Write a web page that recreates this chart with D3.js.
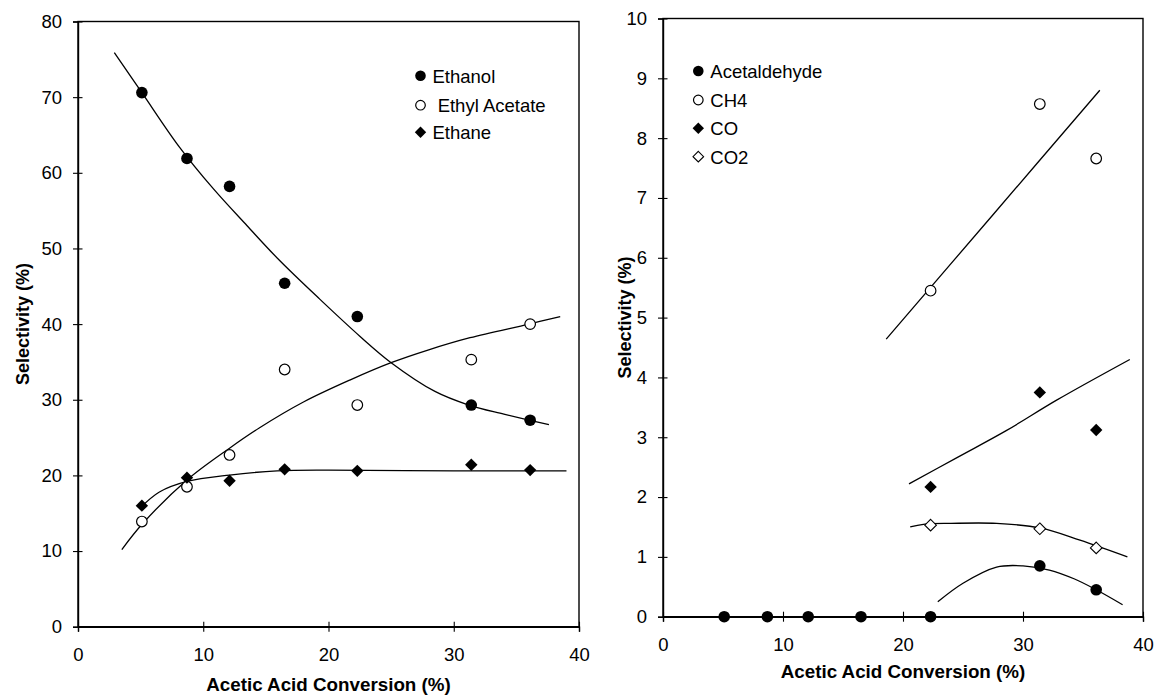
<!DOCTYPE html>
<html>
<head>
<meta charset="utf-8">
<script src="https://cdn.jsdelivr.net/npm/d3@7"></script>
<style>
  body { margin: 0; background: #fff; }
  svg text { font-family: "Liberation Sans", Arial, sans-serif; fill: #000; white-space: pre; }
</style>
</head>
<body>
<svg id="chart" width="1156" height="695"></svg>
<script>
// ---- data ----
const conversion = [5.1, 8.7, 12.1, 16.5, 22.3, 31.4, 36.1];

// left panel
const ethanol      = [70.6, 61.9, 58.2, 45.4, 41.0, 29.3, 27.3];
const ethylAcetate = [13.9, 18.5, 22.7, 34.0, 29.3, 35.3, 40.0];
const ethane       = [16.0, 19.7, 19.3, 20.8, 20.6, 21.4, 20.7];

// right panel
const acetaldehyde = [0, 0, 0, 0, 0, 0.85, 0.45];
const ch4          = [null, null, null, null, 5.45, 8.57, 7.66];
const co           = [null, null, null, null, 2.17, 3.75, 3.12];
const co2          = [null, null, null, null, 1.53, 1.47, 1.15];

// trend lines
const ethanolTrend = [[2.9, 75.9], [5.1, 70.6], [8.1, 63.4], [10.8, 57.9], [13.5, 53.0], [16.1, 48.4],
  [19.3, 43.3], [22.5, 38.4], [25.0, 34.9], [28.5, 31.1], [31.2, 29.3], [34.0, 28.1], [36.0, 27.3], [37.6, 26.7]];
const ethylAcetateTrend = [[3.5, 10.2], [5.2, 13.7], [8.7, 19.4], [12.1, 23.6], [14.5, 26.3], [18.0, 29.7],
  [21.7, 32.6], [25.0, 34.9], [28.0, 36.6], [31.3, 38.2], [36.0, 40.0], [38.5, 41.0]];
const ethaneTrend = [[4.9, 15.6], [6.5, 17.8], [8.7, 19.2], [12.1, 20.05], [15.9, 20.6], [20, 20.7], [30, 20.6], [39, 20.6]];

const ch4Trend = [[18.6, 4.64], [27.5, 6.72], [36.4, 8.8]];
const coTrend = [[20.5, 2.22], [24.5, 2.66], [28.6, 3.11], [32.8, 3.62], [38.9, 4.30]];
const co2Trend = [[20.6, 1.50], [21.7, 1.545], [24.0, 1.56], [27.8, 1.56], [31.5, 1.48], [34.75, 1.28], [38.7, 1.0]];
const acetaldehydeTrend = [[22.9, 0.25], [25.0, 0.56], [27.8, 0.83], [30.0, 0.85], [32.2, 0.78], [34.3, 0.63], [36.1, 0.45], [38.3, 0.2]];

// axis ticks
const xTicks = [0, 10, 20, 30, 40];
const leftYTicks = [0, 10, 20, 30, 40, 50, 60, 70, 80];
const rightYTicks = [0, 1, 2, 3, 4, 5, 6, 7, 8, 9, 10];

// ---- drawing ----
const svg = d3.select("#chart");

function diamondPath(s) {
  return `M0,${-s}L${s},0L0,${s}L${-s},0Z`;
}

function drawMarker(g, type, x, y, big) {
  const r = big ? 5.8 : 5.3;
  if (type === "fillCircle") {
    g.append("circle").attr("cx", x).attr("cy", y).attr("r", r).attr("fill", "#000");
  } else if (type === "openCircle") {
    g.append("circle").attr("cx", x).attr("cy", y).attr("r", r - 0.5)
      .attr("fill", "#fff").attr("stroke", "#000").attr("stroke-width", 1.2);
  } else if (type === "fillDiamond") {
    g.append("path").attr("transform", `translate(${x},${y})`).attr("d", diamondPath(r + 0.4)).attr("fill", "#000");
  } else {
    g.append("path").attr("transform", `translate(${x},${y})`).attr("d", diamondPath(r))
      .attr("fill", "#fff").attr("stroke", "#000").attr("stroke-width", 1.1);
  }
}

function drawPanel(p) {
  const x = d3.scaleLinear().domain([0, 40]).range([p.left, p.right]);
  const y = d3.scaleLinear().domain([0, p.yMax]).range([p.bottom, p.top]);
  const g = svg.append("g");

  // frame
  g.append("rect")
    .attr("x", p.left).attr("y", p.top)
    .attr("width", p.right - p.left).attr("height", p.bottom - p.top)
    .attr("fill", "none").attr("stroke", "#000").attr("stroke-width", 1.4);

  // axes
  const yAxis = g.append("g")
    .attr("transform", `translate(${p.left},0)`)
    .call(d3.axisLeft(y).tickValues(p.yTicks).tickSize(5).tickPadding(11).tickFormat(d3.format("d")));
  const xAxis = g.append("g")
    .attr("transform", `translate(0,${p.bottom})`)
    .call(d3.axisBottom(x).tickValues(xTicks).tickSize(5).tickPadding(p.xPad).tickFormat(d3.format("d")));
  [yAxis, xAxis].forEach(a => {
    a.select(".domain").attr("stroke-width", 1.4);
    a.selectAll("text").attr("font-size", "18.5px").attr("font-family", null);
  });
  yAxis.selectAll(".tick line").attr("x1", 4.5).attr("x2", -5).attr("stroke-width", 1.1);
  xAxis.selectAll(".tick line").attr("y1", -5).attr("y2", 5).attr("stroke-width", 1.1);

  // axis titles
  g.append("text")
    .attr("x", (p.left + p.right) / 2).attr("y", p.xTitleY)
    .attr("text-anchor", "middle").attr("font-weight", "bold").attr("font-size", "18.8px")
    .text("Acetic Acid Conversion (%)");
  g.append("text")
    .attr("transform", `translate(${p.yTitleX},${(p.top + p.bottom) / 2}) rotate(-90)`)
    .attr("text-anchor", "middle").attr("font-weight", "bold").attr("font-size", "18px")
    .text("Selectivity (%)");

  // trend lines
  const line = d3.line().x(d => x(d[0])).y(d => y(d[1])).curve(d3.curveCatmullRom.alpha(0.5));
  p.trends.forEach(t => {
    g.append("path").attr("d", line(t)).attr("fill", "none").attr("stroke", "#000").attr("stroke-width", 1.3);
  });

  // points
  p.series.forEach(s => {
    s.values.forEach((v, i) => {
      if (v === null) return;
      drawMarker(g, s.marker, x(conversion[i]), y(v), true);
    });
  });

  // legend
  p.series.forEach((s, i) => {
    const ly = p.legendY[i];
    drawMarker(g, s.marker, p.legendX, ly, false);
    g.append("text").attr("x", p.legendX + 12).attr("y", ly + 6.8)
      .attr("font-size", "18.5px").text(s.name);
  });
}

drawPanel({
  left: 78, right: 579, top: 21.5, bottom: 626.7, yMax: 80, yTicks: leftYTicks,
  xPad: 16, xTitleY: 691, yTitleX: 28.5,
  legendX: 420.5, legendY: [75.7, 105.2, 132.3],
  trends: [ethanolTrend, ethylAcetateTrend, ethaneTrend],
  series: [
    { name: "Ethanol", values: ethanol, marker: "fillCircle" },
    { name: " Ethyl Acetate", values: ethylAcetate, marker: "openCircle" },
    { name: "Ethane", values: ethane, marker: "fillDiamond" }
  ]
});

drawPanel({
  left: 663, right: 1143, top: 18.5, bottom: 616.7, yMax: 10, yTicks: rightYTicks,
  xPad: 16, xTitleY: 678, yTitleX: 631,
  legendX: 698.3, legendY: [71, 100, 128.3, 156.7],
  trends: [ch4Trend, coTrend, co2Trend, acetaldehydeTrend],
  series: [
    { name: "Acetaldehyde", values: acetaldehyde, marker: "fillCircle" },
    { name: "CH4", values: ch4, marker: "openCircle" },
    { name: "CO", values: co, marker: "fillDiamond" },
    { name: "CO2", values: co2, marker: "openDiamond" }
  ]
});
</script>
</body>
</html>
